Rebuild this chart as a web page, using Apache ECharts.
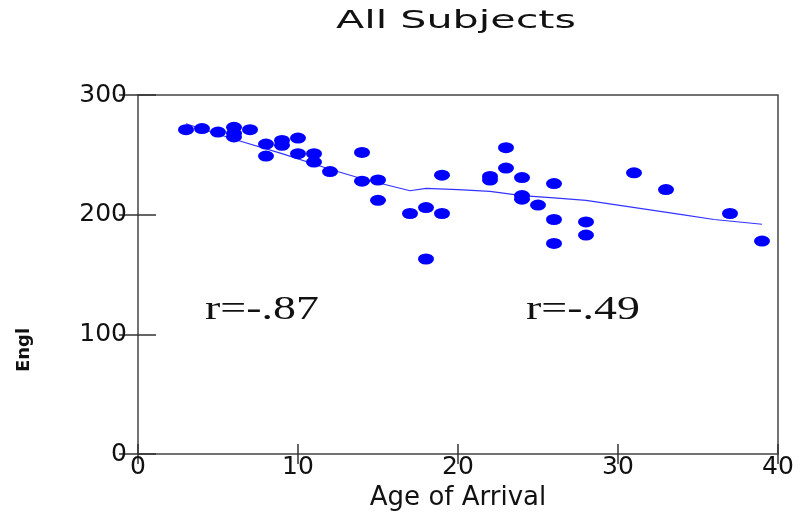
<!DOCTYPE html>
<html>
<head>
<meta charset="utf-8">
<script src="https://cdn.jsdelivr.net/npm/echarts@6/dist/echarts.min.js"></script>
<style>
  html, body { margin: 0; padding: 0; background: #fff; }
  #chart { width: 802px; height: 516px; }
</style>
</head>
<body>
<div id="chart"></div>
<script>
// 数据：到达年龄 / 英语成绩
var ageOfArrival = [3, 4, 5, 6, 6, 6, 7, 8, 8, 9, 9, 10, 10, 11, 11, 12,
  14, 14, 15, 15, 17, 18, 18, 19, 19, 22, 22, 23, 23, 24, 24, 24, 25,
  26, 26, 26, 28, 28, 31, 33, 37, 39];
var englishScore = [271, 272, 269, 273, 268, 265, 271, 259, 249, 262, 258, 264, 251, 251, 244, 236,
  252, 228, 229, 212, 201, 206, 163, 233, 201, 229, 232, 256, 239, 231, 216, 213, 208,
  226, 196, 176, 194, 183, 235, 221, 201, 178];

// 平滑拟合线
var fitX = [3, 6, 9, 12, 14, 17, 18, 20, 22, 24, 26, 28, 30, 32, 34, 36, 39];
var fitY = [276, 263, 251, 238, 230, 220, 222, 221, 219.5, 216, 214, 212, 208, 204, 200, 196, 192];

var xTicks = [0, 10, 20, 30, 40];
var yTicks = [0, 100, 200, 300];
var rLabels = ['r=-.87', 'r=-.49'];

var myChart = echarts.init(document.getElementById('chart'));

var points = ageOfArrival.map(function (a, i) { return [a, englishScore[i]]; });
var fitLine = fitX.map(function (a, i) { return [a, fitY[i]]; });

var sans = '"DejaVu Sans", "Liberation Sans", Arial, sans-serif';
var tickFont = { fontFamily: sans, fontSize: 25, color: '#111' };
var tickStyle = { color: '#333', width: 1.5 };

myChart.setOption({
  animation: false,
  grid: { left: 138, right: 24, top: 95, bottom: 61, show: true, borderColor: '#444', borderWidth: 1.5 },
  xAxis: [{
    type: 'value', min: xTicks[0], max: xTicks[xTicks.length - 1], interval: 10,
    name: 'Age of Arrival', nameLocation: 'middle', nameGap: 29,
    nameTextStyle: { fontFamily: sans, fontSize: 26, color: '#111' },
    axisLine: { show: false },
    axisTick: { inside: true, length: 10, lineStyle: tickStyle },
    axisLabel: Object.assign({ margin: 1 }, tickFont),
    splitLine: { show: false }
  }, {
    type: 'value', position: 'top', min: xTicks[0], max: xTicks[xTicks.length - 1], interval: 10,
    axisLine: { show: false },
    axisTick: { inside: true, length: 10, lineStyle: tickStyle },
    axisLabel: { show: false },
    splitLine: { show: false }
  }],
  yAxis: [{
    type: 'value', min: yTicks[0], max: yTicks[yTicks.length - 1], interval: 100,
    axisLine: { show: false },
    axisTick: { inside: true, length: 18, lineStyle: tickStyle },
    axisLabel: Object.assign({ margin: 11 }, tickFont),
    splitLine: { show: false }
  }, {
    type: 'value', position: 'right', min: yTicks[0], max: yTicks[yTicks.length - 1], interval: 100,
    axisLine: { show: false },
    axisTick: { inside: true, length: 19, lineStyle: tickStyle },
    axisLabel: { show: false },
    splitLine: { show: false }
  }],
  graphic: [
    {
      type: 'text', x: 456, y: 21, scaleX: 1.65,
      style: { text: 'All Subjects', font: '25px ' + sans, fill: '#111', align: 'center', verticalAlign: 'middle' }
    },
    {
      type: 'text', x: 24, y: 350, rotation: Math.PI / 2,
      style: { text: 'Engl', font: 'bold 18px ' + sans, fill: '#111', align: 'center', verticalAlign: 'middle' }
    },
    {
      type: 'text', x: 205, y: 310, scaleX: 1.35,
      style: { text: rLabels[0], font: '34px "Liberation Serif", "Times New Roman", serif', fill: '#111', verticalAlign: 'middle' }
    },
    {
      type: 'text', x: 526, y: 310, scaleX: 1.35,
      style: { text: rLabels[1], font: '34px "Liberation Serif", "Times New Roman", serif', fill: '#111', verticalAlign: 'middle' }
    }
  ],
  series: [{
    name: 'fit',
    type: 'line',
    data: fitLine,
    showSymbol: false,
    lineStyle: { color: '#3333ff', width: 1.2 },
    z: 2
  }, {
    name: 'subjects',
    type: 'scatter',
    data: points,
    symbol: 'circle',
    symbolSize: [16, 11],
    itemStyle: { color: '#0000ff', opacity: 1 },
    z: 3
  }]
});

window.addEventListener('resize', function () {
  myChart.resize();
});
</script>
</body>
</html>
